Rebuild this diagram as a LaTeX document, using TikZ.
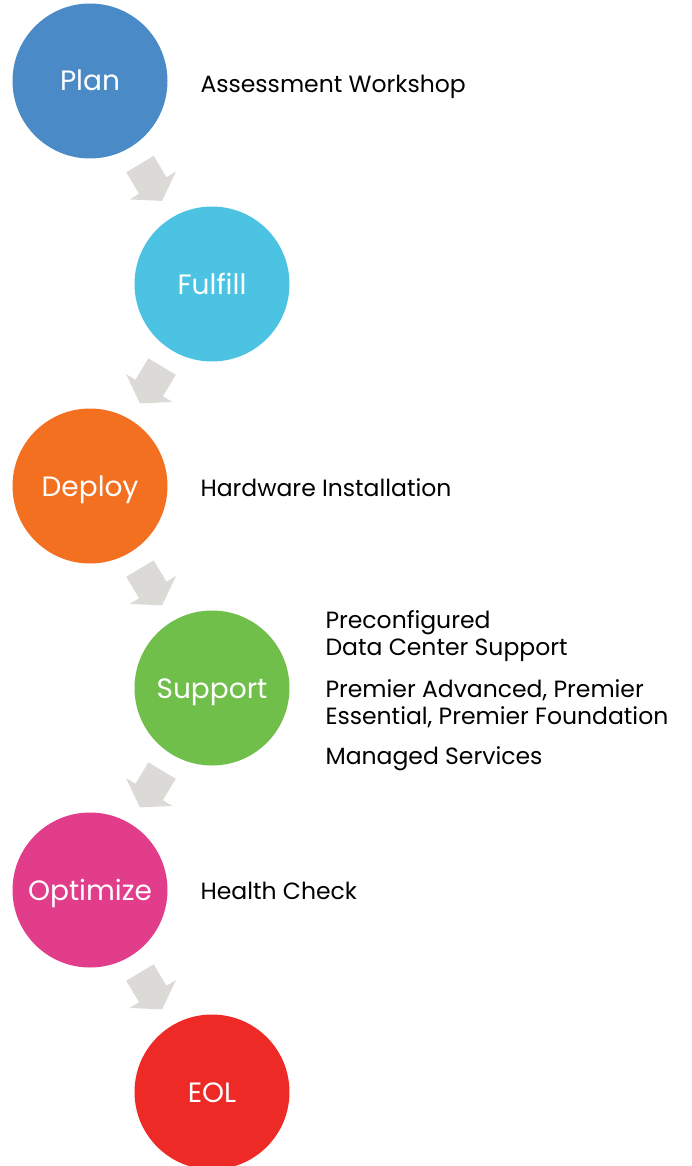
\documentclass[tikz,border=0pt]{standalone}
\usepackage{fontspec}
\setmainfont{Poppins}
\usetikzlibrary{calc}

\definecolor{planblue}{HTML}{4A8BC7}
\definecolor{fulfillcyan}{HTML}{4DC3E3}
\definecolor{deployorange}{HTML}{F37021}
\definecolor{supportgreen}{HTML}{70BF4B}
\definecolor{optimizepink}{HTML}{E23D8B}
\definecolor{eolred}{HTML}{EE2A27}
\definecolor{arrowgray}{HTML}{DCDAD6}

\tikzset{
  stage/.style={circle,fill=#1,minimum size=155pt,inner sep=0pt,text=white,
    text height=20pt,text depth=0pt,font=\fontsize{28}{32}\selectfont},
  sidetext/.style={anchor=base west,align=left,font=\fontsize{23.5}{27}\selectfont},
  flowarrow/.pic={
    \fill[arrowgray] (-21.5,16) -- (3.5,16) -- (3.5,27) -- (21.5,0)
      -- (3.5,-27) -- (3.5,-16) -- (-21.5,-16) -- cycle;}
}

\begin{document}
\begin{tikzpicture}[x=1pt,y=-1pt]
  \useasboundingbox (0,0) rectangle (691,1166);
  % stages, zig-zag between two columns
  \node[stage=planblue] (plan) at (90,81) {Plan};
  \node[stage=fulfillcyan] (fulfill) at (212,284) {Fulfill};
  \node[stage=deployorange] (deploy) at (90,486) {Deploy};
  \node[stage=supportgreen] (support) at (212,688) {Support};
  \node[stage=optimizepink] (optimize) at (90,890) {Optimize};
  \node[stage=eolred] (eol) at (212,1092) {EOL};

  % gray block arrows from one stage to the next
  \foreach \from/\to/\ang in {plan/fulfill/-59, fulfill/deploy/-121,
      deploy/support/-59, support/optimize/-121, optimize/eol/-59}
    \pic[rotate=\ang] at ($(\from)!.5!(\to)$) {flowarrow};

  % services next to the stages (base = last line)
  \node[sidetext] (plantext) at (197,93) {Assessment Workshop};
  \node[sidetext] (deploytext) at (197,496) {Hardware Installation};
  \node[sidetext] (supporttexta) at (322,655) {Preconfigured\\Data Center Support};
  \node[sidetext] (supporttextb) at (322,724) {Premier Advanced, Premier\\Essential, Premier Foundation};
  \node[sidetext] (supporttextc) at (322,764) {Managed Services};
  \node[sidetext] (optimizetext) at (197,899) {Health Check};
\end{tikzpicture}
\end{document}
